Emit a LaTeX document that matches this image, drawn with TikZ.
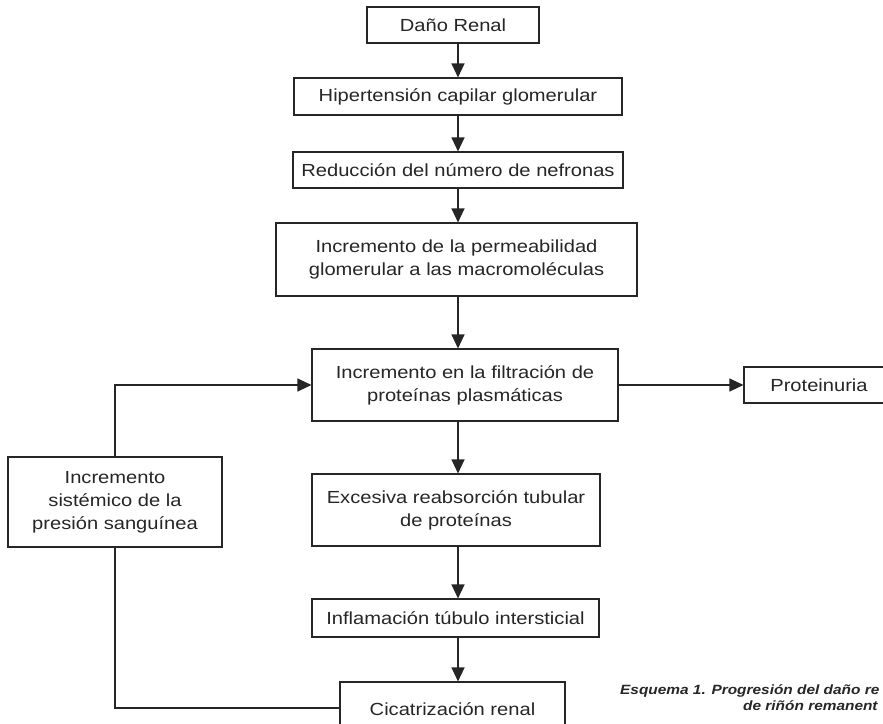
\documentclass[tikz,border=0pt]{standalone}
\usepackage{fontspec}
\setmainfont[FakeStretch=1.15]{Liberation Sans}
\usetikzlibrary{arrows.meta}
\begin{document}
\begin{tikzpicture}[x=1pt,y=-1pt,
  box/.style={draw=black!85,line width=1.1pt,inner sep=0pt,align=center,
    font=\fontsize{17.5}{23}\selectfont,text=black!85},
  arr/.style={draw=black!85,line width=1.2pt,-{Triangle[length=14pt,width=13pt]}},
  ln/.style={draw=black!85,line width=1.2pt},
  captxt/.style={font=\fontsize{13.4}{17}\selectfont\bfseries\itshape,text=black!85,inner sep=0pt,anchor=base west}]
\useasboundingbox[fill=white] (0,0) rectangle (883,723);
\coordinate (ax) at (458,0);
\node[box,minimum width=172pt,minimum height=36pt] (dano) at (453,25) {Daño Renal};
\node[box,minimum width=328pt,minimum height=37pt] (hiper) at (458,96.5) {Hipertensión capilar glomerular};
\node[box,minimum width=330pt,minimum height=36pt] (reduc) at (458,170) {Reducción del número de nefronas};
\node[box,minimum width=361pt,minimum height=73pt] (perm) at (456.5,259.5) {Incremento de la permeabilidad\\glomerular a las macromoléculas};
\node[box,minimum width=306pt,minimum height=72pt] (filt) at (465,385) {Incremento en la filtración de\\proteínas plasmáticas};
\node[box,minimum width=150pt,minimum height=36pt] (prot) at (819,385) {Proteinuria};
\node[box,minimum width=288pt,minimum height=72pt] (exces) at (456,510) {Excesiva reabsorción tubular\\de proteínas};
\node[box,minimum width=287pt,minimum height=38pt] (infl) at (455.5,618) {Inflamación túbulo intersticial};
\node[box,minimum width=225pt,minimum height=54pt] (cica) at (452.5,709) {Cicatrización renal};
\node[box,minimum width=214pt,minimum height=90pt] (left) at (115,502) {Incremento\\sistémico de la\\presión sanguínea};
\coordinate (lx) at (115,0);
\coordinate (ctop) at (115,385);
\coordinate (cbot) at (115,708);
\draw[arr] (dano.south -| ax) -- (hiper.north -| ax);
\draw[arr] (hiper.south -| ax) -- (reduc.north -| ax);
\draw[arr] (reduc.south -| ax) -- (perm.north -| ax);
\draw[arr] (perm.south -| ax) -- (filt.north -| ax);
\draw[arr] (filt.south -| ax) -- (exces.north -| ax);
\draw[arr] (exces.south -| ax) -- (infl.north -| ax);
\draw[arr] (infl.south -| ax) -- (cica.north -| ax);
\draw[arr] (filt.east) -- (prot.west);
\draw[ln] (cica.west |- cbot) -- (cbot) -- (left.south -| lx);
\draw[arr] (left.north -| lx) -- (ctop) -- (filt.west);
\node[captxt] (cap1) at (620,694) {Esquema 1. Progresión del daño re};
\node[captxt] (cap2) at (743,710) {de riñón remanent};
\end{tikzpicture}
\end{document}
